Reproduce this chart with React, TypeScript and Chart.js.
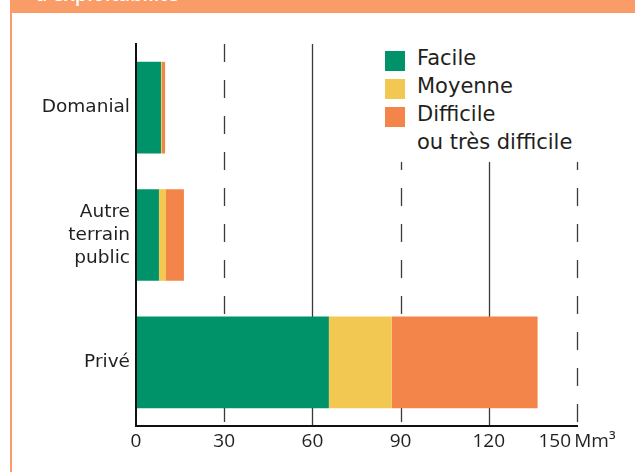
import React, { useEffect, useRef } from 'react';
import { Chart, registerables } from 'chart.js';

Chart.register(...registerables);

// ---- data ----
const categories: (string | string[])[] = ['Domanial', ['Autre', 'terrain', 'public'], 'Privé'];
const facile = [8.5, 7.8, 65.6];
const moyenne = [0.3, 2.4, 21.4];
const difficile = [1.1, 6.1, 49.6];
const xTicks = [0, 30, 60, 90, 120, 150];
const unit = 'Mm³';
const seriesNames = ['Facile', 'Moyenne', 'Difficile'];
const legendLines = [['Facile'], ['Moyenne'], ['Difficile', 'ou très difficile']];
const headerText = "d'exploitabilité";

// ---- styles ----
const FONT = '"Open Sans", "Noto Sans", sans-serif';
const WIDE_FONT = '"DejaVu Sans", "Open Sans", sans-serif';
const GREEN = '#00936A';
const YELLOW = '#F2C853';
const ORANGE = '#F4854A';
const HEADER = '#F99C68';
const TEXT = '#231F20';
const GRID = '#3a3a3a';
const seriesColors = [GREEN, YELLOW, ORANGE];

const altGridPlugin = {
  id: 'altGrid',
  beforeDatasetsDraw(chart: any) {
    const { ctx, chartArea, scales } = chart;
    const xs = scales.x;
    ctx.save();
    ctx.strokeStyle = GRID;
    ctx.lineWidth = 1.3;
    xTicks.forEach((v) => {
      if (v === 0) return;
      const px = Math.round(xs.getPixelForValue(v)) + 0.5;
      const dashed = Math.round(v / 30) % 2 === 1;
      ctx.setLineDash(dashed ? [18, 18] : []);
      ctx.beginPath();
      ctx.moveTo(px, chartArea.top);
      ctx.lineTo(px, chartArea.bottom);
      ctx.stroke();
    });
    ctx.restore();
  },
};

export default function App() {
  const canvasRef = useRef<HTMLCanvasElement | null>(null);

  useEffect(() => {
    if (!canvasRef.current) return;
    const datasetValues = [facile, moyenne, difficile];
    const chart = new Chart(canvasRef.current, {
      type: 'bar',
      data: {
        labels: categories as any,
        datasets: datasetValues.map((vals, i) => ({
          label: seriesNames[i],
          data: vals,
          backgroundColor: seriesColors[i],
          borderWidth: 0,
          barPercentage: 0.72,
          categoryPercentage: 1,
        })),
      },
      options: {
        indexAxis: 'y',
        responsive: false,
        animation: false,
        devicePixelRatio: 1,
        layout: { padding: { top: 44, right: 58, left: 0, bottom: 0 } },
        plugins: {
          legend: { display: false },
          tooltip: { enabled: false },
          title: { display: false },
        },
        scales: {
          x: {
            type: 'linear',
            stacked: true,
            min: 0,
            max: 150,
            afterFit: (s: any) => {
              s.height = 46;
            },
            afterBuildTicks: (s: any) => {
              s.ticks = xTicks.map((v) => ({ value: v }));
            },
            grid: { display: false, drawTicks: false },
            border: { display: true, color: '#111', width: 2, z: 1 },
            ticks: {
              padding: 4,
              color: TEXT,
              font: { family: FONT, size: 19 },
              maxRotation: 0,
              autoSkip: false,
              callback: (value: any) =>
                Number(value) === xTicks[xTicks.length - 1] ? `${value}\u2009${unit}` : `${value}`,
            },
          },
          y: {
            stacked: true,
            afterFit: (s: any) => {
              s.width = 136;
            },
            grid: { display: false, drawTicks: false },
            border: { display: true, color: '#111', width: 2, z: 1 },
            ticks: {
              padding: 6,
              color: TEXT,
              font: { family: WIDE_FONT, size: 18.5, lineHeight: 1.24 },
              autoSkip: false,
            },
          },
        },
      } as any,
      plugins: [altGridPlugin],
    });
    return () => chart.destroy();
  }, []);

  return (
    <div
      style={{
        position: 'absolute',
        left: 0,
        top: 0,
        width: 635,
        height: 472,
        background: '#fff',
        overflow: 'hidden',
        fontFamily: FONT,
      }}
    >
      {/* header band */}
      <div
        style={{
          position: 'absolute',
          left: 10,
          top: 0,
          width: 625,
          height: 13,
          background: HEADER,
          overflow: 'hidden',
        }}
      >
        <span
          style={{
            position: 'absolute',
            left: 25,
            top: -16,
            lineHeight: '20px',
            fontSize: 20,
            fontWeight: 600,
            color: '#fff',
            whiteSpace: 'nowrap',
          }}
        >
          {headerText}
        </span>
      </div>
      {/* left border */}
      <div style={{ position: 'absolute', left: 10, top: 13, width: 2, height: 459, background: HEADER }} />
      <canvas
        ref={canvasRef}
        width={635}
        height={472}
        style={{ position: 'absolute', left: 0, top: 0, width: 635, height: 472, display: 'block' }}
      />
      {/* legend */}
      <div
        style={{
          position: 'absolute',
          left: 378,
          top: 44,
          width: 222,
          height: 118,
          background: '#fff',
          fontFamily: WIDE_FONT,
        }}
      >
        {legendLines.map((lines, i) => (
          <div key={i} style={{ position: 'relative', paddingLeft: 39, color: TEXT, fontSize: 21, lineHeight: '28px' }}>
            <span
              style={{
                position: 'absolute',
                left: 7,
                top: 7,
                width: 20,
                height: 20,
                background: seriesColors[i],
              }}
            />
            {lines.map((t, j) => (
              <div key={j} style={{ whiteSpace: 'nowrap' }}>
                {t}
              </div>
            ))}
          </div>
        ))}
      </div>
    </div>
  );
}
